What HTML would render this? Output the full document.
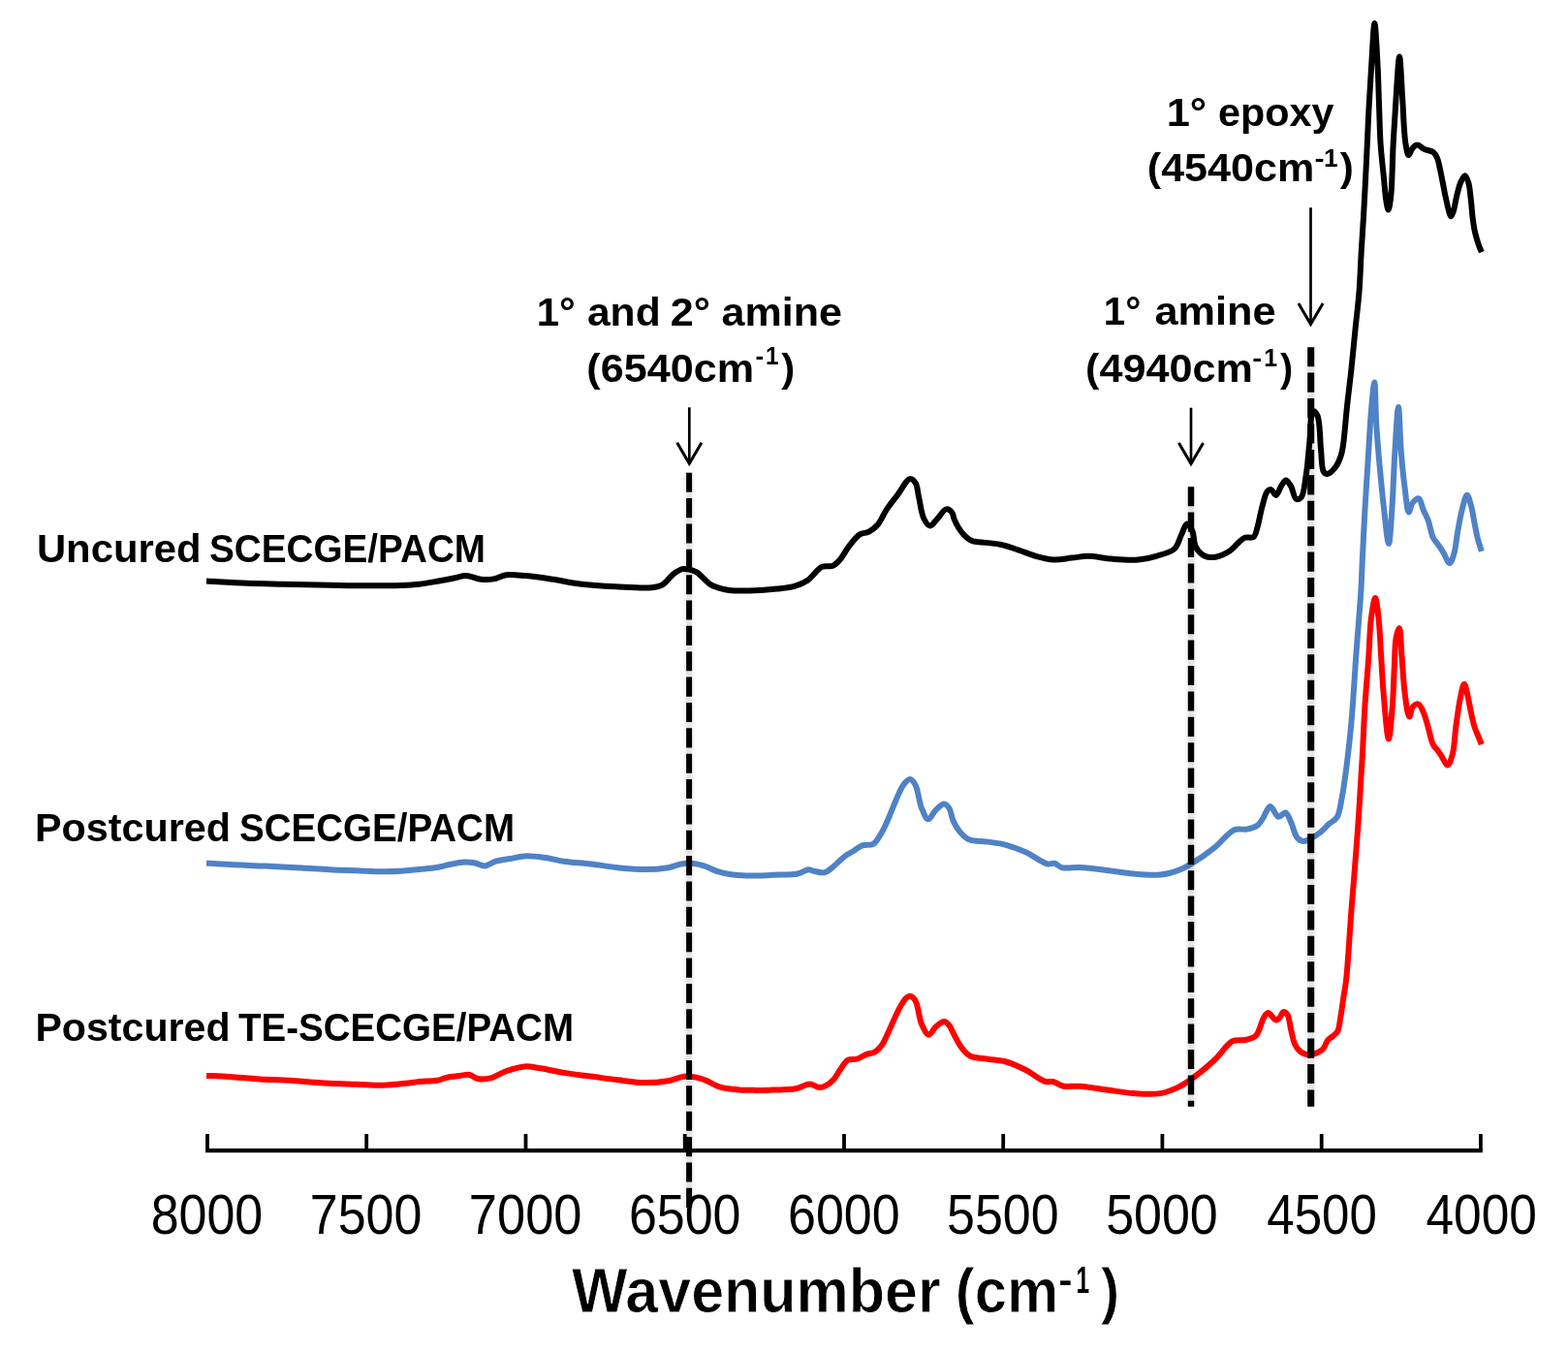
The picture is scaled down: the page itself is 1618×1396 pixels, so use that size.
<!DOCTYPE html>
<html><head><meta charset="utf-8"><title>NIR spectra</title>
<style>
html,body{margin:0;padding:0;background:#fff;width:1618px;height:1396px;overflow:hidden}
svg{display:block}
.tk{font-family:"Liberation Sans",sans-serif;font-size:56.5px;fill:#000}
.lb{font-family:"Liberation Sans",sans-serif;font-weight:bold;font-size:41.5px;fill:#000}
.sp{font-family:"Liberation Sans",sans-serif;font-weight:bold;font-size:25px;fill:#000}
.tt{font-family:"Liberation Sans",sans-serif;font-weight:bold;font-size:65.5px;fill:#000;stroke:#fff;stroke-width:0.9px}
.ts{font-family:"Liberation Sans",sans-serif;font-weight:bold;font-size:38px;fill:#000}
</style></head><body>
<svg width="1618" height="1396" viewBox="0 0 1618 1396">
<rect width="1618" height="1396" fill="#fff"/>
<line x1="711.3" y1="420.3" x2="711.3" y2="478.3" stroke="#000" stroke-width="2.7"/><polyline points="698.7,456.8 711.3,478.3 723.9,456.8" fill="none" stroke="#000" stroke-width="3" stroke-linejoin="miter" stroke-miterlimit="8"/>
<line x1="1229.0" y1="420.7" x2="1229.0" y2="478.6" stroke="#000" stroke-width="2.7"/><polyline points="1216.4,457.1 1229.0,478.6 1241.6,457.1" fill="none" stroke="#000" stroke-width="3" stroke-linejoin="miter" stroke-miterlimit="8"/>
<line x1="1352.5" y1="214.2" x2="1352.5" y2="334.5" stroke="#000" stroke-width="2.7"/><polyline points="1339.9,313.0 1352.5,334.5 1365.1,313.0" fill="none" stroke="#000" stroke-width="3" stroke-linejoin="miter" stroke-miterlimit="8"/>
<path d="M213.0 599.5 C227.2 600.3 241.9 601.3 255.6 601.8 C268.4 602.3 279.6 602.4 292.7 602.7 C307.5 603.0 325.2 603.4 340.0 603.7 C353.1 603.9 364.7 604.2 377.1 604.2 C389.4 604.2 403.9 604.2 414.1 603.9 C421.4 603.7 426.5 603.5 432.7 602.8 C438.9 602.1 445.0 600.9 451.2 599.8 C457.4 598.7 464.3 597.4 469.7 596.3 C473.9 595.5 476.9 593.9 480.9 594.0 C485.7 594.1 491.4 597.3 496.4 597.8 C500.9 598.3 505.0 598.1 509.3 597.4 C513.7 596.6 517.4 593.9 522.3 593.2 C528.3 592.4 535.4 593.5 542.7 594.1 C551.3 594.9 561.2 596.4 570.5 597.8 C579.8 599.2 588.3 601.2 598.3 602.4 C609.7 603.8 623.0 604.6 635.4 605.2 C647.8 605.8 663.8 607.2 672.5 606.2 C677.3 605.7 680.1 605.4 683.6 603.4 C687.7 601.1 691.1 595.1 694.8 592.3 C697.9 590.0 701.0 587.8 704.0 587.1 C706.5 586.5 709.0 587.1 711.4 587.6 C713.9 588.1 716.1 588.8 718.9 590.4 C723.2 593.0 728.6 600.4 733.7 603.4 C737.9 605.9 743.3 607.1 746.7 608.0 C748.8 608.5 749.6 608.7 751.9 608.9 C756.7 609.4 766.4 609.6 774.2 609.4 C783.0 609.2 793.7 608.5 802.0 607.6 C808.8 606.8 815.0 606.3 820.5 604.6 C825.3 603.1 829.3 601.5 833.5 598.7 C838.6 595.3 843.3 587.0 848.3 584.8 C852.0 583.1 856.3 585.2 859.5 583.8 C862.5 582.5 864.5 580.1 866.9 577.3 C870.1 573.7 872.8 567.7 876.2 563.4 C879.6 559.1 883.4 553.8 887.3 551.4 C890.3 549.5 893.7 550.2 896.6 548.6 C899.9 546.9 903.0 544.5 905.8 541.2 C909.3 537.1 911.7 530.5 915.1 525.4 C918.5 520.3 922.3 515.7 926.2 510.6 C930.3 505.2 935.6 494.3 939.2 493.9 C941.3 493.7 943.4 496.2 944.8 498.5 C946.9 501.8 946.9 508.0 948.2 513.4 C949.7 519.9 950.7 529.9 953.3 535.0 C955.0 538.4 957.3 542.4 959.6 542.5 C961.9 542.6 964.4 538.2 967.0 535.6 C970.0 532.6 973.5 525.8 976.5 525.4 C978.6 525.1 981.1 527.2 982.4 528.9 C983.8 530.6 983.6 533.2 984.6 535.6 C985.8 538.4 987.4 541.8 989.1 544.5 C990.7 547.1 992.7 549.7 994.6 551.8 C996.3 553.6 998.2 555.4 1000.0 556.5 C1001.4 557.4 1002.1 557.7 1004.1 558.3 C1009.2 559.7 1023.6 560.0 1031.9 561.7 C1038.8 563.1 1044.3 565.3 1050.5 567.3 C1056.7 569.3 1062.8 572.1 1069.0 573.8 C1075.1 575.5 1081.3 577.2 1087.5 577.5 C1093.7 577.8 1100.1 576.2 1106.1 575.6 C1111.8 575.0 1116.7 573.8 1122.8 573.8 C1130.1 573.8 1138.6 576.0 1146.9 576.6 C1155.8 577.3 1166.4 578.2 1174.7 577.5 C1181.5 576.9 1187.1 575.6 1193.2 573.8 C1199.5 571.9 1207.4 570.4 1211.8 566.4 C1215.8 562.7 1216.9 556.1 1219.2 551.5 C1221.2 547.5 1222.8 540.6 1224.8 540.4 C1226.5 540.3 1228.9 544.6 1230.3 547.8 C1232.3 552.1 1231.5 560.0 1234.0 564.5 C1236.2 568.4 1239.7 572.1 1243.3 573.8 C1246.6 575.3 1250.5 575.3 1254.4 574.7 C1259.1 573.9 1265.0 571.0 1269.3 568.2 C1273.2 565.6 1276.4 561.0 1279.3 558.6 C1281.3 556.9 1282.4 555.5 1284.5 554.7 C1287.0 553.8 1291.4 555.6 1293.5 554.1 C1295.8 552.4 1296.2 548.3 1297.4 544.4 C1299.2 538.6 1300.6 529.1 1302.5 522.5 C1304.1 516.8 1305.4 509.6 1307.7 507.0 C1308.9 505.7 1310.3 504.8 1311.6 505.1 C1313.3 505.4 1315.1 511.1 1316.7 510.9 C1318.6 510.7 1320.1 504.6 1321.9 501.9 C1323.5 499.5 1325.3 495.4 1327.0 495.4 C1328.7 495.4 1330.6 499.2 1332.2 501.9 C1334.2 505.3 1335.0 513.5 1337.4 514.7 C1338.9 515.5 1341.1 514.9 1342.5 513.5 C1345.5 510.4 1346.3 498.9 1347.7 490.3 C1349.5 479.6 1350.3 465.6 1351.5 454.2 C1352.6 443.8 1352.1 425.5 1354.8 424.5 C1356.0 424.0 1358.1 426.1 1359.3 428.4 C1362.3 434.2 1361.9 454.0 1363.1 464.5 C1364.0 472.7 1363.5 482.8 1365.7 486.4 C1366.7 488.1 1368.1 489.1 1369.6 489.0 C1372.0 488.8 1376.3 484.3 1378.6 481.2 C1380.9 478.1 1382.4 474.1 1383.6 470.5 C1384.8 467.0 1385.2 464.6 1385.9 460.0 C1387.3 451.1 1388.5 433.6 1389.9 420.4 C1391.3 407.1 1393.1 393.7 1394.5 380.3 C1395.9 366.9 1397.1 353.5 1398.5 340.1 C1399.8 326.7 1401.6 313.3 1402.6 300.0 C1403.6 286.8 1403.9 273.6 1404.7 260.4 C1405.5 247.1 1406.4 233.7 1407.2 220.3 C1408.0 206.9 1408.6 193.5 1409.3 180.1 C1410.0 166.7 1410.6 152.4 1411.2 140.0 C1411.7 129.4 1412.0 120.9 1412.6 110.3 C1413.3 97.9 1414.1 84.0 1415.0 70.2 C1416.0 55.3 1417.3 24.0 1418.4 24.0 C1419.5 24.0 1420.9 55.3 1421.7 70.2 C1422.4 84.0 1422.6 97.0 1423.1 110.3 C1423.6 123.6 1423.8 137.5 1424.7 150.0 C1425.5 161.3 1426.8 171.9 1427.8 182.0 C1428.7 191.1 1429.4 201.7 1430.5 208.0 C1431.1 211.6 1431.9 216.4 1432.6 216.4 C1433.5 216.4 1434.5 209.0 1435.2 203.0 C1436.6 191.2 1436.7 167.4 1437.6 150.0 C1438.5 133.2 1439.5 116.1 1440.6 100.3 C1441.6 85.8 1443.0 58.5 1444.1 58.5 C1445.2 58.5 1446.1 85.9 1447.1 100.3 C1448.2 115.7 1448.6 137.4 1450.4 148.0 C1451.3 153.4 1452.2 159.9 1453.6 160.1 C1454.7 160.2 1455.9 154.8 1457.5 153.0 C1458.9 151.4 1460.7 149.6 1462.6 149.6 C1464.8 149.5 1467.4 152.9 1470.1 154.1 C1472.9 155.4 1476.9 155.4 1479.1 157.1 C1481.0 158.6 1482.0 160.6 1483.1 163.1 C1484.5 166.3 1485.1 170.9 1486.1 175.1 C1487.2 179.8 1488.1 185.2 1489.1 190.2 C1490.1 195.2 1491.0 200.4 1492.1 205.2 C1493.1 209.7 1494.2 215.0 1495.2 218.3 C1495.9 220.4 1496.5 223.3 1497.2 223.3 C1498.0 223.3 1498.9 220.5 1499.7 218.3 C1501.0 214.5 1501.9 207.4 1503.2 202.2 C1504.4 197.4 1505.5 192.0 1507.2 188.2 C1508.5 185.4 1510.4 181.1 1511.7 181.2 C1513.0 181.3 1514.3 185.3 1515.2 188.2 C1516.6 192.5 1517.0 199.3 1517.7 205.2 C1518.5 211.6 1518.9 219.1 1519.7 225.3 C1520.4 230.7 1521.1 235.6 1522.2 240.3 C1523.2 244.6 1524.5 248.8 1525.7 252.4 C1526.7 255.3 1527.8 257.6 1528.9 260.2" fill="none" stroke="#000" stroke-width="6.0" stroke-linejoin="round" stroke-linecap="butt"/>
<path d="M213.0 890.4 C221.0 891.0 228.2 891.6 237.1 892.1 C248.1 892.7 261.8 893.0 274.1 893.6 C286.5 894.2 299.6 894.8 311.2 895.5 C321.4 896.1 330.5 896.8 340.0 897.3 C349.3 897.8 358.5 898.0 367.8 898.3 C377.1 898.6 387.3 899.2 395.6 899.2 C402.4 899.2 407.9 899.1 414.1 898.7 C420.3 898.3 426.5 897.5 432.7 896.9 C438.9 896.3 445.5 895.9 451.2 895.0 C456.2 894.2 460.5 892.7 465.1 891.8 C469.7 890.9 474.7 889.7 479.0 889.5 C482.7 889.3 485.8 889.6 489.3 890.2 C493.0 890.8 496.7 893.6 500.4 893.4 C504.1 893.2 507.5 889.9 511.5 888.7 C516.0 887.3 521.3 886.9 526.4 886.0 C531.8 885.1 537.2 883.4 543.0 883.2 C549.4 882.9 556.8 884.1 563.4 885.0 C569.8 885.9 575.2 887.7 582.0 888.7 C590.3 889.9 600.5 890.4 609.8 891.5 C619.1 892.6 628.3 894.3 637.6 895.2 C646.9 896.1 656.5 897.1 665.4 897.1 C673.7 897.1 682.7 896.4 689.5 895.2 C694.5 894.3 698.5 892.3 702.5 891.5 C705.8 890.9 708.4 890.4 711.8 890.6 C716.2 890.8 721.9 892.0 726.6 893.4 C731.2 894.8 735.1 897.4 739.6 898.9 C744.3 900.4 748.8 901.5 754.4 902.3 C761.7 903.3 772.3 903.6 780.0 903.6 C786.3 903.6 790.8 903.1 797.1 902.8 C804.8 902.4 816.2 902.9 823.0 901.5 C827.6 900.5 831.1 897.4 834.2 897.2 C836.3 897.1 837.5 898.3 839.7 898.7 C842.8 899.3 847.5 901.0 850.9 900.2 C854.3 899.4 857.0 896.5 860.1 894.0 C863.8 891.1 867.6 886.5 871.3 883.8 C874.4 881.5 877.4 880.2 880.5 878.3 C883.6 876.4 886.4 873.5 889.8 872.3 C893.2 871.1 897.8 872.6 900.9 870.9 C904.1 869.1 906.0 865.2 908.3 861.6 C911.0 857.4 913.3 852.3 915.8 846.8 C918.8 840.2 922.0 831.1 925.0 824.5 C927.5 819.0 929.6 813.3 932.4 809.7 C934.4 807.1 936.8 804.0 938.9 804.1 C940.9 804.2 942.9 806.9 944.5 809.7 C947.4 814.7 948.3 827.4 951.0 833.8 C953.0 838.5 955.3 845.1 957.8 845.3 C960.2 845.5 962.9 838.3 965.8 835.6 C968.4 833.1 971.8 829.4 974.2 829.5 C976.2 829.6 978.1 831.8 979.5 834.0 C981.5 837.0 981.7 842.7 983.5 846.7 C985.3 850.7 987.4 854.6 990.2 857.9 C992.9 861.2 995.8 864.5 1000.0 866.3 C1005.2 868.6 1013.2 867.7 1019.6 868.6 C1025.9 869.5 1031.9 870.1 1038.1 871.8 C1044.8 873.6 1051.7 876.2 1058.5 879.3 C1065.9 882.6 1075.2 890.2 1080.8 891.4 C1083.8 892.0 1085.8 890.3 1088.2 890.8 C1090.8 891.4 1092.4 894.2 1095.6 895.1 C1100.3 896.4 1107.4 894.8 1114.2 895.1 C1122.5 895.5 1132.7 896.8 1142.0 897.9 C1151.3 899.0 1160.5 900.8 1169.8 901.6 C1179.0 902.4 1189.3 903.4 1197.6 902.5 C1204.5 901.8 1210.7 899.9 1216.2 897.9 C1221.0 896.1 1224.2 894.3 1229.1 891.4 C1236.0 887.3 1245.7 880.7 1253.2 874.7 C1260.5 868.9 1267.1 858.9 1273.6 856.2 C1278.1 854.4 1282.5 856.4 1286.6 855.6 C1290.5 854.8 1294.8 853.6 1297.7 851.5 C1300.2 849.6 1301.4 846.9 1303.3 844.1 C1305.7 840.6 1308.0 832.3 1310.7 832.1 C1313.4 831.9 1316.3 842.3 1319.3 842.8 C1321.6 843.2 1324.5 838.0 1326.5 838.5 C1328.8 839.1 1330.2 844.2 1332.0 847.8 C1334.3 852.4 1335.6 860.9 1338.5 864.2 C1340.4 866.4 1342.7 867.8 1345.0 868.0 C1347.5 868.2 1350.4 866.2 1353.2 864.8 C1356.4 863.1 1360.1 860.7 1363.1 858.2 C1366.1 855.7 1368.6 852.5 1371.4 850.0 C1374.1 847.6 1377.5 846.7 1379.6 843.4 C1382.5 838.9 1383.1 831.1 1384.6 823.6 C1386.5 814.0 1388.0 802.5 1389.5 790.6 C1391.3 776.5 1393.0 761.4 1394.5 744.5 C1396.4 723.8 1397.7 698.1 1399.4 675.3 C1401.0 653.1 1403.3 627.0 1404.4 609.4 C1405.1 597.7 1405.2 591.4 1405.7 580.0 C1406.5 564.2 1407.5 542.2 1408.6 523.3 C1409.7 504.2 1411.1 483.7 1412.2 466.0 C1413.2 450.6 1413.8 435.9 1415.0 423.0 C1415.9 412.5 1417.5 394.5 1418.3 394.5 C1419.3 394.5 1419.3 423.0 1420.2 437.3 C1421.1 451.6 1422.3 466.0 1423.6 480.3 C1424.9 494.6 1426.3 509.5 1427.9 523.3 C1429.4 536.3 1431.6 561.0 1433.0 561.0 C1434.4 561.0 1435.5 537.2 1436.5 523.3 C1437.7 506.2 1438.2 484.0 1439.4 466.0 C1440.4 449.8 1441.9 420.0 1443.0 420.0 C1444.1 420.0 1444.6 451.6 1445.8 466.0 C1446.8 478.7 1448.0 490.8 1449.4 501.8 C1450.7 511.4 1451.9 528.3 1453.7 528.5 C1454.8 528.6 1455.6 521.4 1457.5 519.0 C1459.2 516.9 1462.2 513.9 1464.0 514.4 C1466.2 515.0 1467.0 522.1 1468.6 525.8 C1470.2 529.5 1472.1 532.5 1473.6 536.6 C1475.5 541.8 1476.6 550.0 1478.7 554.5 C1480.2 557.6 1482.0 559.2 1483.7 561.6 C1485.4 564.0 1486.9 566.0 1488.7 568.8 C1490.9 572.3 1493.8 581.1 1495.8 581.0 C1497.5 580.9 1498.9 576.1 1500.1 572.4 C1502.1 566.3 1502.9 555.3 1504.4 547.3 C1505.8 539.8 1507.0 532.3 1508.7 525.8 C1510.2 520.3 1512.1 510.8 1513.8 510.8 C1515.3 510.8 1516.9 517.9 1518.1 522.2 C1519.6 527.4 1520.5 534.5 1521.6 540.1 C1522.6 545.2 1523.3 549.7 1524.5 554.5 C1525.7 559.3 1527.4 564.0 1528.8 568.8" fill="none" stroke="#4f82c6" stroke-width="6.0" stroke-linejoin="round" stroke-linecap="butt"/>
<path d="M213.0 1109.9 C221.0 1110.2 228.8 1110.4 237.1 1110.9 C246.0 1111.5 255.6 1112.6 264.9 1113.2 C274.2 1113.8 283.4 1114.1 292.7 1114.6 C302.0 1115.1 312.1 1115.8 320.5 1116.4 C327.6 1116.9 332.9 1117.4 340.0 1117.8 C348.4 1118.2 358.5 1118.4 367.8 1118.7 C377.1 1119.0 386.8 1119.9 395.6 1119.7 C403.7 1119.5 412.1 1118.5 418.8 1117.8 C424.0 1117.2 427.7 1116.5 432.7 1116.0 C438.4 1115.4 446.1 1115.8 451.2 1114.8 C454.9 1114.1 457.1 1112.6 460.5 1111.8 C464.6 1110.9 470.1 1110.4 474.4 1109.9 C478.1 1109.5 481.4 1108.4 484.6 1109.0 C487.6 1109.5 489.8 1112.4 493.0 1113.0 C496.8 1113.8 501.5 1113.5 506.0 1112.4 C511.3 1111.1 516.8 1107.0 522.6 1105.0 C528.5 1103.0 535.1 1100.8 541.2 1100.4 C546.9 1100.0 551.8 1101.4 557.9 1102.3 C565.2 1103.4 573.7 1105.6 582.0 1106.9 C590.9 1108.3 600.5 1109.4 609.8 1110.6 C619.1 1111.8 628.3 1113.2 637.6 1114.3 C646.9 1115.4 656.5 1117.0 665.4 1117.1 C673.7 1117.2 682.0 1116.4 689.5 1115.2 C696.1 1114.1 702.0 1110.8 708.1 1110.6 C713.8 1110.4 719.2 1111.7 724.8 1113.4 C730.9 1115.3 737.4 1119.9 743.3 1121.7 C748.4 1123.2 752.7 1123.6 758.1 1124.1 C764.7 1124.8 773.2 1124.8 780.0 1124.9 C786.1 1125.0 790.9 1124.8 797.1 1124.6 C804.4 1124.3 814.3 1124.6 821.2 1123.3 C826.7 1122.3 831.2 1118.6 835.6 1118.6 C839.2 1118.6 842.5 1122.0 845.6 1122.0 C848.2 1122.0 850.4 1121.0 852.7 1119.8 C855.3 1118.5 857.8 1116.5 860.1 1114.0 C862.8 1111.1 864.9 1106.4 867.5 1102.9 C869.9 1099.6 872.0 1095.2 875.0 1093.6 C877.7 1092.2 881.2 1093.6 884.2 1092.7 C887.4 1091.8 890.3 1089.3 893.5 1088.1 C896.6 1086.9 900.1 1086.9 902.8 1085.3 C905.6 1083.6 908.0 1081.0 910.2 1077.9 C913.0 1074.0 915.0 1068.4 917.6 1063.0 C920.6 1056.8 923.8 1048.4 926.9 1042.6 C929.4 1038.0 931.8 1033.1 934.3 1030.6 C935.8 1029.1 937.3 1027.7 938.9 1027.8 C940.7 1027.9 942.9 1029.9 944.5 1032.4 C947.5 1037.1 948.1 1050.3 951.0 1056.6 C953.1 1061.2 955.8 1067.5 958.4 1067.7 C960.8 1067.9 963.1 1061.6 965.8 1059.3 C968.4 1057.1 971.9 1053.9 974.4 1054.0 C976.4 1054.1 978.1 1056.3 979.5 1058.0 C981.2 1060.0 981.9 1062.6 983.5 1065.6 C985.9 1069.9 989.1 1077.0 992.4 1081.2 C995.1 1084.6 997.2 1087.6 1001.0 1089.5 C1005.8 1091.9 1013.4 1091.7 1019.6 1092.7 C1025.8 1093.7 1031.9 1093.8 1038.1 1095.5 C1044.8 1097.4 1051.8 1100.7 1058.5 1104.0 C1065.4 1107.5 1073.6 1114.6 1078.9 1116.0 C1081.9 1116.8 1083.7 1115.5 1086.4 1116.0 C1089.8 1116.7 1093.3 1119.9 1097.5 1120.7 C1102.4 1121.7 1107.9 1120.3 1114.2 1120.7 C1122.3 1121.2 1132.7 1123.2 1142.0 1124.4 C1151.3 1125.6 1160.5 1127.5 1169.8 1128.1 C1179.0 1128.7 1189.4 1129.5 1197.6 1128.1 C1204.5 1126.9 1210.5 1124.3 1216.2 1121.6 C1221.6 1119.0 1225.7 1116.1 1231.0 1112.3 C1237.8 1107.4 1246.3 1100.3 1253.2 1093.8 C1259.9 1087.6 1265.6 1077.3 1271.8 1074.3 C1276.1 1072.2 1280.7 1074.0 1284.8 1073.0 C1288.7 1072.1 1292.9 1071.6 1295.9 1068.7 C1299.8 1065.0 1301.4 1054.2 1304.0 1050.1 C1305.5 1047.7 1306.7 1045.1 1308.5 1045.0 C1310.8 1044.9 1314.7 1052.6 1317.0 1052.6 C1318.6 1052.6 1319.9 1050.5 1321.1 1049.1 C1322.4 1047.6 1323.2 1044.2 1324.5 1044.0 C1325.7 1043.8 1327.5 1045.4 1328.6 1047.1 C1330.5 1050.1 1330.9 1057.2 1332.1 1062.2 C1333.4 1067.2 1334.1 1073.1 1336.1 1077.2 C1337.7 1080.5 1339.6 1083.4 1342.1 1085.2 C1344.4 1086.9 1347.4 1088.0 1350.1 1088.2 C1352.7 1088.4 1355.6 1087.7 1358.1 1086.7 C1360.6 1085.7 1363.2 1084.3 1365.2 1082.2 C1367.4 1079.9 1368.3 1075.5 1370.2 1073.2 C1371.7 1071.4 1373.6 1070.7 1375.2 1069.2 C1376.9 1067.7 1378.9 1066.5 1380.2 1064.2 C1382.0 1060.9 1382.3 1055.2 1383.2 1050.1 C1384.3 1044.0 1385.2 1036.8 1386.2 1030.1 C1387.2 1023.4 1388.2 1018.8 1389.2 1010.0 C1391.0 993.6 1392.6 963.5 1394.5 939.0 C1396.5 912.6 1399.1 883.6 1401.0 856.6 C1402.8 830.6 1404.5 802.9 1405.8 780.0 C1406.9 761.3 1407.3 746.0 1408.4 729.0 C1409.5 711.8 1411.2 693.4 1412.3 677.4 C1413.3 663.6 1413.4 649.7 1414.8 638.7 C1415.9 630.4 1417.8 617.0 1419.1 617.0 C1420.4 617.0 1421.7 630.4 1422.6 638.7 C1423.9 649.7 1424.3 664.5 1425.2 677.4 C1426.0 690.3 1426.5 702.5 1427.7 716.0 C1429.0 730.8 1431.3 762.5 1432.9 762.5 C1434.3 762.5 1435.8 740.6 1436.8 729.0 C1437.8 716.6 1438.0 702.6 1438.7 690.3 C1439.3 679.0 1439.1 665.6 1440.6 658.0 C1441.4 653.6 1443.0 647.9 1443.9 648.0 C1445.4 648.2 1445.6 666.9 1446.5 677.4 C1447.5 689.4 1448.2 704.8 1449.7 716.0 C1450.9 724.8 1452.5 739.4 1454.2 739.5 C1455.4 739.6 1456.0 731.1 1458.0 729.0 C1459.5 727.4 1462.0 726.0 1463.6 726.5 C1465.6 727.1 1467.1 731.2 1468.6 734.4 C1470.6 738.6 1472.0 744.7 1473.6 750.1 C1475.3 755.9 1476.5 763.8 1478.7 768.1 C1480.1 771.0 1482.1 772.3 1483.7 774.5 C1485.2 776.6 1486.5 778.6 1488.0 780.9 C1489.8 783.6 1492.0 789.6 1493.7 789.5 C1495.6 789.4 1497.4 783.4 1498.7 778.8 C1500.8 771.7 1501.0 759.7 1502.3 750.1 C1503.6 740.6 1504.9 729.6 1506.6 721.5 C1507.9 715.4 1509.5 705.7 1510.9 705.7 C1512.1 705.7 1513.4 713.4 1514.5 717.9 C1515.8 723.3 1516.8 730.2 1518.1 735.8 C1519.2 740.8 1520.2 745.7 1521.6 750.1 C1522.8 754.0 1524.6 757.7 1525.9 760.9 C1527.0 763.5 1527.8 765.7 1528.8 768.1" fill="none" stroke="#ff0000" stroke-width="6.0" stroke-linejoin="round" stroke-linecap="butt"/>
<line x1="711.1" y1="487.7" x2="711.1" y2="1246.4" stroke="#000" stroke-opacity="0.03" stroke-width="12.0"/><line x1="711.1" y1="487.7" x2="711.1" y2="1246.4" stroke="#000" stroke-opacity="0.07" stroke-width="6.0"/><line x1="711.1" y1="487.7" x2="711.1" y2="1246.4" stroke="#000" stroke-width="6.0" stroke-dasharray="20.10 6.26"/>
<line x1="1229.0" y1="502.2" x2="1229.0" y2="1141.7" stroke="#000" stroke-opacity="0.03" stroke-width="12.4"/><line x1="1229.0" y1="502.2" x2="1229.0" y2="1141.7" stroke="#000" stroke-opacity="0.07" stroke-width="6.4"/><line x1="1229.0" y1="502.2" x2="1229.0" y2="1141.7" stroke="#000" stroke-width="6.4" stroke-dasharray="20.10 6.30"/>
<line x1="1352.7" y1="358.2" x2="1352.7" y2="1141.7" stroke="#000" stroke-opacity="0.03" stroke-width="13.0"/><line x1="1352.7" y1="358.2" x2="1352.7" y2="1141.7" stroke="#000" stroke-opacity="0.07" stroke-width="7.0"/><line x1="1352.7" y1="358.2" x2="1352.7" y2="1141.7" stroke="#000" stroke-width="7.0" stroke-dasharray="20.10 6.32"/>
<line x1="212.1" y1="1187.2" x2="1529.8" y2="1187.2" stroke="#000" stroke-width="4.2"/>
<line x1="214.0" y1="1170" x2="214.0" y2="1187.2" stroke="#000" stroke-width="3.8"/><line x1="378.2" y1="1170" x2="378.2" y2="1187.2" stroke="#000" stroke-width="3.8"/><line x1="542.5" y1="1170" x2="542.5" y2="1187.2" stroke="#000" stroke-width="3.8"/><line x1="706.7" y1="1170" x2="706.7" y2="1187.2" stroke="#000" stroke-width="3.8"/><line x1="871.0" y1="1170" x2="871.0" y2="1187.2" stroke="#000" stroke-width="3.8"/><line x1="1035.2" y1="1170" x2="1035.2" y2="1187.2" stroke="#000" stroke-width="3.8"/><line x1="1199.4" y1="1170" x2="1199.4" y2="1187.2" stroke="#000" stroke-width="3.8"/><line x1="1363.7" y1="1170" x2="1363.7" y2="1187.2" stroke="#000" stroke-width="3.8"/><line x1="1527.9" y1="1170" x2="1527.9" y2="1187.2" stroke="#000" stroke-width="3.8"/>

<text id="t_unc1" x="37.92" y="579.6" textLength="169.66" lengthAdjust="spacingAndGlyphs" class="lb">Uncured</text><text id="t_unc2" x="215.97" y="579.6" textLength="285.08" lengthAdjust="spacingAndGlyphs" class="lb">SCECGE/PACM</text><text id="t_pc1a" x="35.93" y="868.0" textLength="202.14" lengthAdjust="spacingAndGlyphs" class="lb">Postcured</text><text id="t_pc1b" x="246.97" y="868.0" textLength="284.06" lengthAdjust="spacingAndGlyphs" class="lb">SCECGE/PACM</text><text id="t_pc2a" x="36.41" y="1073.8" textLength="201.17" lengthAdjust="spacingAndGlyphs" class="lb">Postcured</text><text id="t_pc2b" x="245.99" y="1073.8" textLength="346.03" lengthAdjust="spacingAndGlyphs" class="lb">TE-SCECGE/PACM</text><text id="t_a1a" x="553.69" y="335.8" textLength="40.05" lengthAdjust="spacingAndGlyphs" class="lb">1°</text><text id="t_a1b2" x="605.93" y="335.8" textLength="75.73" lengthAdjust="spacingAndGlyphs" class="lb">and</text><text id="t_a1c" x="691.87" y="335.8" textLength="41.29" lengthAdjust="spacingAndGlyphs" class="lb">2°</text><text id="t_a1d" x="744.47" y="335.8" textLength="124.58" lengthAdjust="spacingAndGlyphs" class="lb">amine</text><text id="t_a1b" x="605.35" y="394.0" textLength="172.83" lengthAdjust="spacingAndGlyphs" class="lb">(6540cm</text><text id="t_a1s" x="779.55" y="376.2" textLength="8.52" lengthAdjust="spacingAndGlyphs" class="sp">-</text><text id="t_a1t" x="790.01" y="376.2" textLength="13.58" lengthAdjust="spacingAndGlyphs" class="sp">1</text><text id="t_a1p" x="806.27" y="394.0" textLength="14.01" lengthAdjust="spacingAndGlyphs" class="lb">)</text><text id="t_a2a" x="1138.73" y="335.4" textLength="38.58" lengthAdjust="spacingAndGlyphs" class="lb">1°</text><text id="t_a2c" x="1191.46" y="335.4" textLength="125.07" lengthAdjust="spacingAndGlyphs" class="lb">amine</text><text id="t_a2b" x="1120.04" y="393.8" textLength="172.77" lengthAdjust="spacingAndGlyphs" class="lb">(4940cm</text><text id="t_a2s" x="1292.38" y="378.1" textLength="9.86" lengthAdjust="spacingAndGlyphs" class="sp">-</text><text id="t_a2t" x="1304.24" y="378.1" textLength="13.85" lengthAdjust="spacingAndGlyphs" class="sp">1</text><text id="t_a2p" x="1320.97" y="393.8" textLength="13.15" lengthAdjust="spacingAndGlyphs" class="lb">)</text><text id="t_ea" x="1203.69" y="129.8" textLength="41.52" lengthAdjust="spacingAndGlyphs" class="lb">1°</text><text id="t_ec" x="1256.97" y="129.8" textLength="119.54" lengthAdjust="spacingAndGlyphs" class="lb">epoxy</text><text id="t_eb" x="1183.82" y="186.9" textLength="172.45" lengthAdjust="spacingAndGlyphs" class="lb">(4540cm</text><text id="t_es" x="1356.40" y="172.4" textLength="10.06" lengthAdjust="spacingAndGlyphs" class="sp">-</text><text id="t_et" x="1366.00" y="172.4" textLength="14.68" lengthAdjust="spacingAndGlyphs" class="sp">1</text><text id="t_ep" x="1382.65" y="186.9" textLength="14.07" lengthAdjust="spacingAndGlyphs" class="lb">)</text><text id="t_x" x="589.99" y="1353.5" textLength="380.80" lengthAdjust="spacingAndGlyphs" class="tt">Wavenumber</text><text id="t_x2" x="985.77" y="1353.5" textLength="106.48" lengthAdjust="spacingAndGlyphs" class="tt">(cm</text><text id="t_xs" x="1092.44" y="1334.4" textLength="13.78" lengthAdjust="spacingAndGlyphs" class="ts">-</text><text id="t_xt" x="1110.62" y="1334.4" textLength="13.60" lengthAdjust="spacingAndGlyphs" class="ts">1</text><text id="t_xp" x="1135.88" y="1353.5" textLength="19.10" lengthAdjust="spacingAndGlyphs" class="tt">)</text><text id="k0" x="155.68" y="1272.5" textLength="115.60" lengthAdjust="spacingAndGlyphs" class="tk">8000</text><text id="k1" x="319.77" y="1272.5" textLength="115.59" lengthAdjust="spacingAndGlyphs" class="tk">7500</text><text id="k2" x="483.80" y="1272.5" textLength="116.67" lengthAdjust="spacingAndGlyphs" class="tk">7000</text><text id="k3" x="648.92" y="1272.5" textLength="115.63" lengthAdjust="spacingAndGlyphs" class="tk">6500</text><text id="k4" x="813.00" y="1272.5" textLength="115.59" lengthAdjust="spacingAndGlyphs" class="tk">6000</text><text id="k5" x="977.09" y="1272.5" textLength="115.60" lengthAdjust="spacingAndGlyphs" class="tk">5500</text><text id="k6" x="1141.19" y="1272.5" textLength="115.58" lengthAdjust="spacingAndGlyphs" class="tk">5000</text><text id="k7" x="1307.34" y="1272.5" textLength="113.49" lengthAdjust="spacingAndGlyphs" class="tk">4500</text><text id="k8" x="1471.40" y="1272.5" textLength="114.51" lengthAdjust="spacingAndGlyphs" class="tk">4000</text>
</svg>
</body></html>
